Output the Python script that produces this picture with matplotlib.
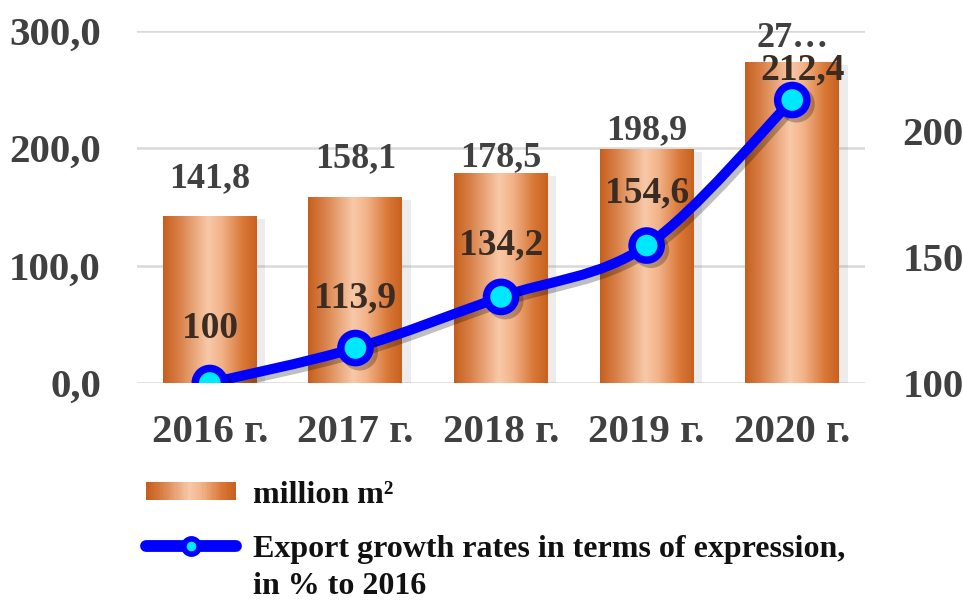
import matplotlib
matplotlib.use('Agg')
import matplotlib.pyplot as plt
import matplotlib.patheffects as pe
import numpy as np
from matplotlib.path import Path
from matplotlib.patches import PathPatch, Rectangle
from matplotlib.lines import Line2D
from matplotlib.legend_handler import HandlerPatch
from matplotlib.colors import LinearSegmentedColormap

# data
years = ['2016 г.', '2017 г.', '2018 г.', '2019 г.', '2020 г.']
area = [141.8, 158.1, 178.5, 198.9, 273.0]
area_labels = ['141,8', '158,1', '178,5', '198,9', '27…']
growth = [100, 113.9, 134.2, 154.6, 212.4]
growth_labels = ['100', '113,9', '134,2', '154,6', '212,4']
left_ticks = [0, 100, 200, 300]
left_tick_labels = ['0,0', '100,0', '200,0', '300,0']
right_ticks = [100, 150, 200]

# label offsets (pixels) as placed in the original
area_offsets = [38, 39, 16, 19, 24]
growth_offsets = [(0, 55), (0, 50), (0, 52), (0, 53), (10, 30)]

plt.rcParams['font.family'] = ['Liberation Serif', 'DejaVu Serif']
plt.rcParams['font.weight'] = 'bold'
txt_color = '#404040'

copper = LinearSegmentedColormap.from_list('copper_bar', [
    (0.0, '#c65f1e'), (0.18, '#d9824a'), (0.48, '#f8c9a8'),
    (0.62, '#f2b48a'), (0.85, '#d97838'), (1.0, '#c8611f')])

fig = plt.figure(figsize=(9.63, 6.03), dpi=100)
ax = fig.add_axes([0.1423, 0.3648, 0.756, 0.5846])
x = np.arange(len(years))

# bars with a cylinder-like gradient
bars = ax.bar(x, area, width=0.645, color='#e09060', zorder=2,
              path_effects=[pe.SimplePatchShadow(offset=(6, -2), alpha=0.15, shadow_rgbFace='#808080'),
                            pe.Normal()])
grad = np.linspace(0, 1, 256).reshape(1, -1)
for b in bars:
    im = ax.imshow(grad, cmap=copper, aspect='auto', zorder=3, interpolation='bilinear',
                   extent=[b.get_x(), b.get_x() + b.get_width(), 0, b.get_height()])
    im.set_clip_path(b)

ax.set_xlim(-0.5, 4.5)
ax.set_ylim(0, 300)
ax.set_yticks(left_ticks, left_tick_labels)
ax.set_xticks(x, years)
ax.grid(axis='y', color='#d9d9d9', lw=1.8, zorder=0)
ax.set_axisbelow(True)
for s in ax.spines.values():
    s.set_visible(False)
ax.tick_params(axis='y', length=0, pad=26, labelsize=29.5, labelcolor=txt_color)
ax.tick_params(axis='x', length=0, pad=22, labelsize=29.5, labelcolor=txt_color)

for xi, v, lab, off in zip(x, area, area_labels, area_offsets):
    ax.annotate(lab, (xi, v), xytext=(0, off), textcoords='offset pixels',
                ha='center', va='center', fontsize=26, color=txt_color, zorder=6)

# growth line on the right axis
ax2 = ax.twinx()
ax2.set_ylim(100, 240)
ax2.set_yticks(right_ticks)
for s in ax2.spines.values():
    s.set_visible(False)
ax2.tick_params(axis='y', length=0, pad=27, labelsize=29.5, labelcolor=txt_color)

pts = np.column_stack([x, growth]).astype(float)
verts = [pts[0]]
codes = [Path.MOVETO]
n = len(pts)
for i in range(n - 1):
    p0 = pts[max(i - 1, 0)]
    p1 = pts[i]
    p2 = pts[i + 1]
    p3 = pts[min(i + 2, n - 1)]
    verts += [p1 + (p2 - p0) / 6, p2 - (p3 - p1) / 6, p2]
    codes += [Path.CURVE4] * 3
curve = PathPatch(Path(verts, codes), fill=False, edgecolor='#0000ff', lw=7.2,
                  capstyle='round', joinstyle='round', zorder=4,
                  path_effects=[pe.SimpleLineShadow(offset=(3, -3), alpha=0.25), pe.Normal()])
ax2.add_patch(curve)
ax2.plot(x, growth, linestyle='none', marker='o', ms=21, mfc='#00e8ff', mec='#0000ff',
         mew=5.4, zorder=5,
         path_effects=[pe.SimpleLineShadow(offset=(3, -3), alpha=0.25), pe.Normal()])

for xi, v, lab, off in zip(x, growth, growth_labels, growth_offsets):
    ax2.annotate(lab, (xi, v), xytext=off, textcoords='offset pixels',
                 ha='center', va='center', fontsize=27, color='#3a2c22', zorder=3)


# legend with gradient swatch
class GradientHandler(HandlerPatch):
    def create_artists(self, legend, orig_handle, xdescent, ydescent, width, height, fontsize, trans):
        k = 40
        arts = []
        for i in range(k):
            arts.append(Rectangle((-xdescent + width * i / k, -ydescent), width / k * 1.05, height,
                                  facecolor=copper(i / (k - 1)), edgecolor='none', transform=trans))
        return arts


bar_handle = Rectangle((0, 0), 1, 1)
line_handle = Line2D([], [], color='#0000ff', lw=8.5, marker='o', ms=11, mfc='#00e8ff',
                     mec='#0000ff', mew=4, solid_capstyle='round')
leg = fig.legend(handles=[bar_handle, line_handle],
                 labels=['million m²', 'Export growth rates in terms of expression,'],
                 handler_map={Rectangle: GradientHandler()},
                 loc='upper left', bbox_to_anchor=(0.152, 0.203), frameon=False,
                 fontsize=23, handlelength=2.8, handleheight=0.47, handletextpad=0.55,
                 labelspacing=0.78, borderaxespad=0, borderpad=0)
for t in leg.get_texts():
    t.set_color('#111111')

fig.canvas.draw()
bb = leg.get_texts()[1].get_window_extent()
W, H = fig.bbox.width, fig.bbox.height
fig.text(bb.x0 / W, ((bb.y0 + bb.y1) / 2 - 37) / H, 'in % to 2016', ha='left', va='center',
         fontsize=23, color='#111111')

fig.savefig('out.png', dpi=100, facecolor='white')
